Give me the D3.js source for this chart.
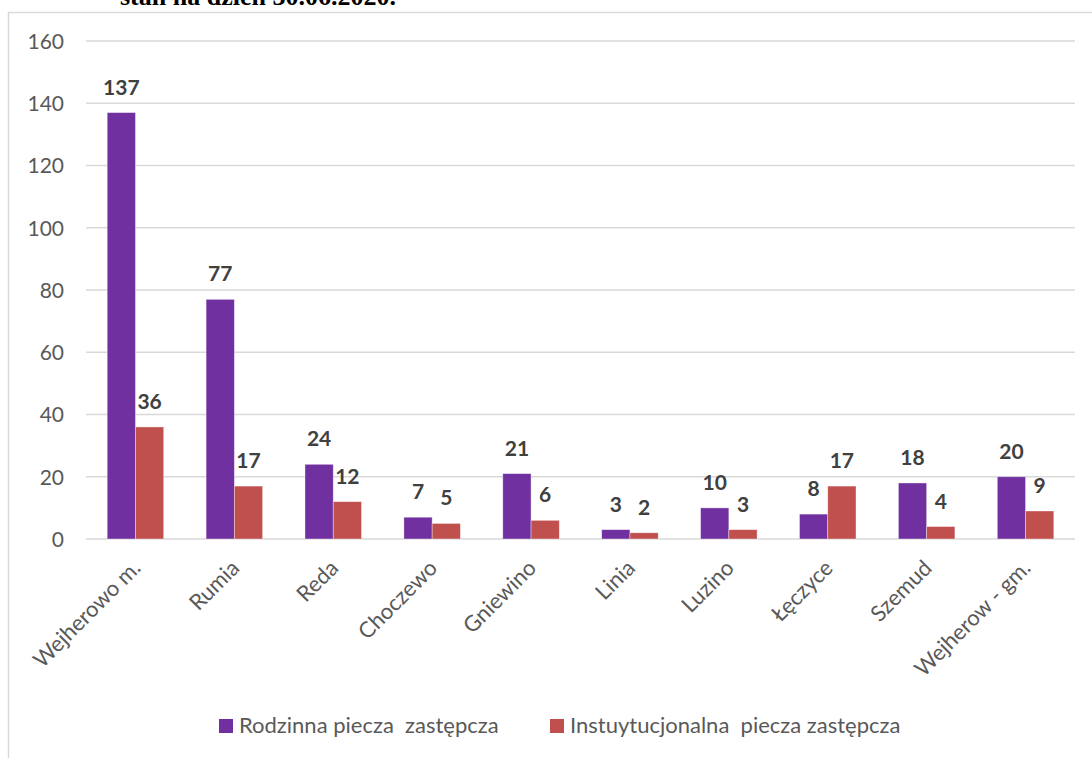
<!DOCTYPE html>
<html>
<head>
<meta charset="utf-8">
<script src="https://cdn.jsdelivr.net/npm/d3@7"></script>
<style>
  html, body { margin: 0; padding: 0; background: #fff; }
  svg { display: block; }
  text { white-space: pre; }
</style>
</head>
<body>
<svg id="chart" width="1092" height="758"></svg>
<script>
const categories = ["Wejherowo m.", "Rumia", "Reda", "Choczewo", "Gniewino", "Linia", "Luzino", "Łęczyce", "Szemud", "Wejherow - gm."];
const rodzinna = [137, 77, 24, 7, 21, 3, 10, 8, 18, 20];
const instytucjonalna = [36, 17, 12, 5, 6, 2, 3, 17, 4, 9];
const seriesNames = ["Rodzinna piecza  zastępcza", "Instuytucjonalna  piecza zastępcza"];
const yTicks = [0, 20, 40, 60, 80, 100, 120, 140, 160];
const titleText = "stan na dzień 30.06.2020.";

const colors = ["#7030A0", "#C0504D"];
const font = "Lato, 'Open Sans', sans-serif";
const svg = d3.select("#chart");

// partially visible title above frame
svg.append("text").attr("x", 120).attr("y", 5)
  .attr("font-family", "'Liberation Serif', 'Times New Roman', serif")
  .attr("font-weight", "bold").attr("font-size", 26).attr("fill", "#000")
  .text(titleText);

// frame
svg.append("path").attr("d", "M8.5,758 V12.5 H1092")
  .attr("fill", "none").attr("stroke", "#d9d9d9").attr("stroke-width", 1.5);

const x0 = d3.scaleBand().domain(categories).range([86, 1075]).paddingInner(0).paddingOuter(0);
const bw = x0.bandwidth() / 3.5;
const y = d3.scaleLinear().domain([0, 160]).range([539, 41]);

// gridlines
svg.append("g").selectAll("line").data(yTicks).join("line")
  .attr("x1", 86).attr("x2", 1075)
  .attr("y1", d => y(d)).attr("y2", d => y(d))
  .attr("stroke", "#d9d9d9").attr("stroke-width", 1.5);

// y axis labels
const yAxis = d3.axisLeft(y).tickValues(yTicks).tickSize(0).tickPadding(0);
const gy = svg.append("g").attr("transform", "translate(64,0)").call(yAxis);
gy.select(".domain").remove();
gy.selectAll("text").attr("font-family", font)
  .attr("font-size", 21).attr("fill", "#595959").attr("dy", "0.35em");

const series = [rodzinna, instytucjonalna];
series.forEach((vals, si) => {
  const g = svg.append("g");
  g.selectAll("rect").data(vals).join("rect")
    .attr("x", (d, i) => x0(categories[i]) + x0.bandwidth() / 2 - bw + si * bw)
    .attr("width", bw)
    .attr("y", d => y(d))
    .attr("height", d => y(0) - y(d))
    .attr("fill", colors[si])
    .attr("stroke", "#ffffff").attr("stroke-opacity", 0.5).attr("stroke-width", 0.75);
  g.selectAll("text").data(vals).join("text")
    .attr("x", (d, i) => x0(categories[i]) + x0.bandwidth() / 2 - bw + si * bw + bw / 2)
    .attr("y", d => y(d) - 18)
    .attr("text-anchor", "middle")
    .attr("font-family", font)
    .attr("font-weight", "bold").attr("font-size", 21).attr("fill", "#404040")
    .text(d => d);
});

// category labels
const xAxis = d3.axisBottom(x0).tickSize(0).tickPadding(0);
const gx = svg.append("g").attr("transform", "translate(0,539)").call(xAxis);
gx.select(".domain").remove();
gx.selectAll("text")
  .attr("font-family", font)
  .attr("font-size", 22).attr("fill", "#595959")
  .attr("text-anchor", "end")
  .attr("transform", "translate(1,25) rotate(-45)")
  .attr("y", 0).attr("dy", "0.35em");

// legend
const legendItems = [{x: 219, name: seriesNames[0], c: colors[0]}, {x: 550, name: seriesNames[1], c: colors[1]}];
const lg = svg.append("g");
legendItems.forEach(it => {
  lg.append("rect").attr("x", it.x).attr("y", 719).attr("width", 14).attr("height", 14).attr("fill", it.c);
  lg.append("text").attr("x", it.x + 20).attr("y", 733)
    .attr("font-family", font)
    .attr("font-size", 22).attr("fill", "#595959")
    .text(it.name);
});
</script>
</body>
</html>
